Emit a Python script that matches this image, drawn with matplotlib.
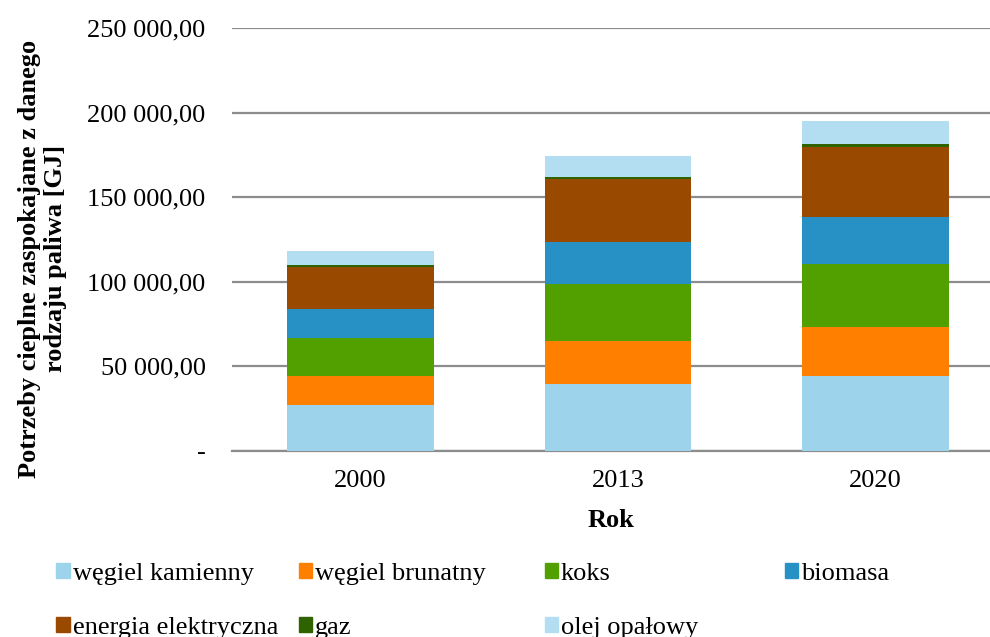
import matplotlib
matplotlib.use("Agg")
import matplotlib.pyplot as plt
from matplotlib.patches import Patch
from matplotlib.ticker import FuncFormatter

plt.rcParams['font.family'] = ['Liberation Serif', 'DejaVu Serif']

years = ['2000', '2013', '2020']
series_names = ['węgiel kamienny', 'węgiel brunatny', 'koks', 'biomasa',
                'energia elektryczna', 'gaz', 'olej opałowy']
wegiel_kamienny = [27000, 39800, 44300]
wegiel_brunatny = [17100, 25100, 28900]
koks = [22600, 33700, 37200]
biomasa = [17200, 24900, 27900]
energia_elektryczna = [25000, 37000, 41600]
gaz = [800, 1200, 1400]
olej_opalowy = [8300, 12500, 13800]
colors = ['#9dd3eb', '#ff8000', '#52a000', '#2791c6', '#9a4a00', '#2f6300', '#b3ddf0']

values = [wegiel_kamienny, wegiel_brunatny, koks, biomasa,
          energia_elektryczna, gaz, olej_opalowy]

fig = plt.figure(figsize=(9.9, 6.37), dpi=100)
ax = fig.add_axes([0.2343, 0.292, 0.7657, 0.664])

x = range(len(years))
bottom = [0, 0, 0]
for name, vals, col in zip(series_names, values, colors):
    ax.bar(x, vals, width=0.57, bottom=bottom, color=col, label=name, zorder=3)
    bottom = [b + v for b, v in zip(bottom, vals)]

ax.set_xlim(-0.5, 2.445)
ax.set_ylim(0, 250000)
ax.set_yticks([0, 50000, 100000, 150000, 200000, 250000])

def fmt(v, pos):
    if v == 0:
        return '-'
    return '{:,.2f}'.format(v).replace(',', ' ').replace('.', ',')

ax.yaxis.set_major_formatter(FuncFormatter(fmt))
ax.set_xticks(list(x))
ax.set_xticklabels(years)
ax.tick_params(axis='both', length=0, labelsize=19)
ax.tick_params(axis='y', pad=19)
ax.tick_params(axis='x', pad=14)
ax.grid(axis='y', color='#8c8c8c', linewidth=1.6, zorder=0)
for s in ['left', 'right', 'top']:
    ax.spines[s].set_visible(False)
ax.spines['bottom'].set_color('#8c8c8c')
ax.spines['bottom'].set_linewidth(1.6)

ax.set_xlabel('Rok', fontsize=19, fontweight='bold', labelpad=12)
fig.text(0.043, 0.594, 'Potrzeby cieplne zaspokajane z danego\nrodzaju paliwa [GJ]',
         rotation=90, ha='center', va='center', fontsize=19, fontweight='bold',
         linespacing=1.12)

# legend: four columns placed separately so they get equal spacing
col_x = [0.057, 0.302, 0.55, 0.793]
cols = [[0, 4], [1, 5], [2, 6], [3]]
for cx, idx in zip(col_x, cols):
    handles = [Patch(color=colors[i], label=series_names[i]) for i in idx]
    fig.legend(handles=handles, loc='upper left', bbox_to_anchor=(cx, 0.116),
               frameon=False, fontsize=19, handlelength=0.5, handleheight=0.5,
               handletextpad=0.12, labelspacing=1.2, borderaxespad=0,
               borderpad=0)

fig.savefig('out.png', dpi=100)
